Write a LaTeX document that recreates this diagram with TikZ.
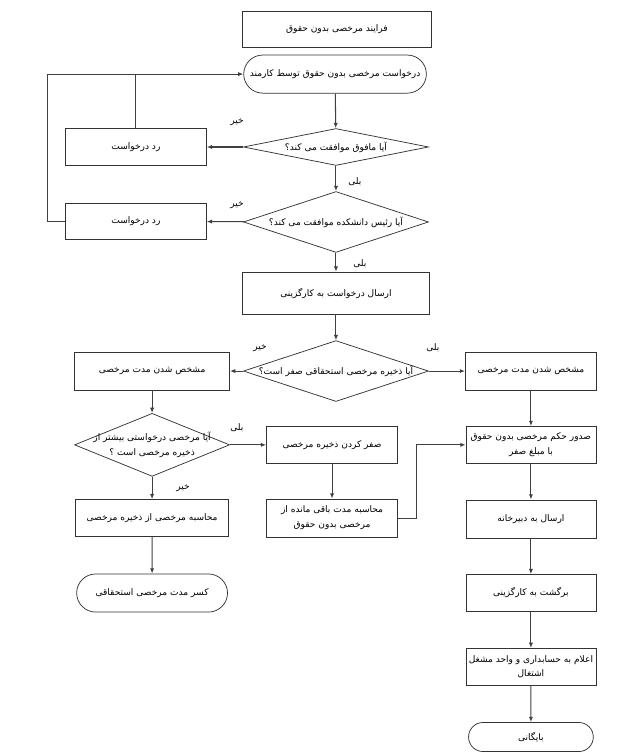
\documentclass[tikz,border=0pt]{standalone}
\usepackage{fontspec}
\newfontfamily\arabicfont[Script=Arabic]{DejaVu Sans}
\TeXXeTstate=1
\usetikzlibrary{shapes.geometric, shapes.misc, arrows.meta}

\newcommand{\fa}[1]{{\arabicfont\beginR #1\endR}}

\begin{document}
\begin{tikzpicture}[
		box/.style = {draw = black!80, line width = 0.7pt, rectangle, minimum height = 1.23cm, inner sep = 2pt, align = center, font = \fontsize{8.6}{14}\selectfont},
		term/.style = {draw = black!80, line width = 0.7pt, rounded rectangle, minimum height = 1.27cm, inner sep = 2pt, align = center, font = \fontsize{8.6}{14}\selectfont},
		decide/.style = {draw = black!80, line width = 0.7pt, diamond, inner sep = 0pt},
		said/.style = {align = center, inner sep = 0pt, font = \fontsize{8.6}{14}\selectfont},
		flow/.style = {draw = black!75, line width = 1pt, -{Latex[length = 5pt, width = 4pt]}},
		link/.style = {draw = black!75, line width = 1pt},
		ans/.style = {font = \fontsize{8.6}{10}\selectfont}
	]

		\useasboundingbox (0, 0) rectangle (20.6, -25.17);

		% main column
		\node[box, minimum width = 6.27cm, minimum height = 1.2cm] (title) at (11.23, -0.97) {\fa{فرایند مرخصی بدون حقوق}};
		\node[term, minimum width = 6.23cm] (start) at (11.17, -2.47) {\fa{درخواست مرخصی بدون حقوق توسط کارمند}};
		\node[decide, minimum width = 6.17cm, minimum height = 1.23cm] (D1) at (11.2, -4.9) {};
		\node[said] (D1t) at (D1) {\fa{آیا مافوق موافقت می کند؟}};
		\node[box, minimum width = 4.7cm] (R1) at (4.53, -4.9) {\fa{رد درخواست}};
		\node[decide, minimum width = 6.17cm, minimum height = 2.03cm] (D2) at (11.2, -7.4) {};
		\node[said] (D2t) at (D2) {\fa{آیا رئیس دانشکده موافقت می کند؟}};
		\node[box, minimum width = 4.7cm] (R2) at (4.53, -7.38) {\fa{رد درخواست}};
		\node[box, minimum width = 6.23cm, minimum height = 1.4cm] (send) at (11.2, -9.77) {\fa{ارسال درخواست به کارگزینی}};
		\node[decide, minimum width = 6.17cm, minimum height = 2.03cm] (D3) at (11.2, -12.37) {};
		\node[said] (D3t) at (D3) {\fa{آیا ذخیره مرخصی استحقاقی صفر است؟}};

		% left branch
		\node[box, minimum width = 5.17cm, minimum height = 1.27cm] (L1) at (5.07, -12.37) {\fa{مشخص شدن مدت مرخصی}};
		\node[decide, minimum width = 5.17cm, minimum height = 2.1cm] (D4) at (5.07, -14.83) {};
		\node[said] (D4t) at (D4) {\fa{آیا مرخصی درخواستی بیشتر از}\\\fa{ذخیره مرخصی است ؟}};
		\node[box, minimum width = 4.37cm] (zero) at (11.07, -14.83) {\fa{صفر کردن ذخیره مرخصی}};
		\node[box, minimum width = 4.37cm, minimum height = 1.27cm] (rest) at (11.07, -17.27) {\fa{محاسبه مدت باقی مانده از}\\\fa{مرخصی بدون حقوق}};
		\node[box, minimum width = 5.1cm] (calc) at (5.07, -17.27) {\fa{محاسبه مرخصی از ذخیره مرخصی}};
		\node[term, minimum width = 5.17cm] (deduct) at (5.07, -19.77) {\fa{کسر مدت مرخصی استحقاقی}};

		% right branch
		\node[box, minimum width = 4.37cm, minimum height = 1.27cm] (M1) at (17.7, -12.37) {\fa{مشخص شدن مدت مرخصی}};
		\node[box, minimum width = 4.33cm] (issue) at (17.7, -14.83) {\fa{صدور حکم مرخصی بدون حقوق}\\\fa{با مبلغ صفر}};
		\node[box, minimum width = 4.33cm, minimum height = 1.27cm] (office) at (17.7, -17.3) {\fa{ارسال به دبیرخانه}};
		\node[box, minimum width = 4.33cm] (back) at (17.7, -19.77) {\fa{برگشت به کارگزینی}};
		\node[box, minimum width = 4.33cm] (notify) at (17.7, -22.23) {\fa{اعلام به حسابداری و واحد مشغل}\\\fa{اشتغال}};
		\node[term, minimum width = 4.3cm, minimum height = 0.97cm] (archive) at (17.7, -24.57) {\fa{بایگانی}};

		\coordinate (loop) at (1.57, -2.47);
		\coordinate (bend) at (13.87, -17.27);

		% answers
		\node[ans] (n1) at (7.9, -4.07) {\fa{خیر}};
		\node[ans] (y1) at (11.83, -6.07) {\fa{بلی}};
		\node[ans] (n2) at (7.9, -6.83) {\fa{خیر}};
		\node[ans] (y2) at (12.0, -8.8) {\fa{بلی}};
		\node[ans] (n3) at (8.67, -11.6) {\fa{خیر}};
		\node[ans] (y3) at (14.43, -11.6) {\fa{بلی}};
		\node[ans] (y4) at (7.9, -14.27) {\fa{بلی}};
		\node[ans] (n4) at (6.1, -16.27) {\fa{خیر}};

		\draw[flow] (start) -- (D1);
		\draw[flow] (D1) -- (R1);
		\draw[flow] (D1) -- (D2);
		\draw[flow] (D2) -- (R2);
		\draw[flow] (D2) -- (send);
		\draw[flow] (send) -- (D3);
		\draw[flow] (D3) -- (L1);
		\draw[flow] (D3) -- (M1);
		\draw[flow] (L1) -- (D4);
		\draw[flow] (D4) -- (zero);
		\draw[flow] (D4) -- (calc);
		\draw[flow] (zero) -- (rest);
		\draw[flow] (calc) -- (deduct);
		\draw[flow] (M1) -- (issue);
		\draw[flow] (issue) -- (office);
		\draw[flow] (office) -- (back);
		\draw[flow] (back) -- (notify);
		\draw[flow] (notify) -- (archive);

		\draw[link] (R1.north) -- (R1.north |- loop);
		\draw[flow] (R2.west) -| (loop) -- (start.west);
		\draw[flow] (rest.east) -- (bend) |- (issue.west);

	\end{tikzpicture}
\end{document}
